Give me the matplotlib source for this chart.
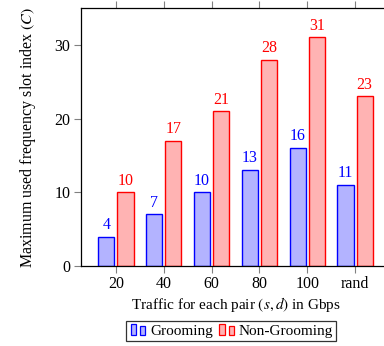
import numpy as np
import matplotlib.pyplot as plt
from matplotlib.patches import Rectangle
from matplotlib.legend_handler import HandlerBase

plt.rcParams['font.family'] = ['Liberation Serif', 'DejaVu Serif']
plt.rcParams['mathtext.fontset'] = 'stix'

categories = ['20', '40', '60', '80', '100', 'rand']
grooming = [4, 7, 10, 13, 16, 11]
non_grooming = [10, 17, 21, 28, 31, 23]

BLUE_EDGE, BLUE_FILL = '#0000ff', '#b3b3ff'
RED_EDGE, RED_FILL = '#ff0000', '#ffb3b3'
FS = 11.5


class TwoBarHandler(HandlerBase):
    """Legend icon drawn as two small bars, like pgfplots ybar legend."""
    def create_artists(self, legend, orig_handle, xdescent, ydescent,
                       width, height, fontsize, trans):
        fc, ec = orig_handle.get_facecolor(), orig_handle.get_edgecolor()
        w = width * 0.3
        arts = []
        for i, h in enumerate([1.0, 0.85]):
            r = Rectangle((-xdescent + i * width * 0.5 + 0.1 * width, -ydescent),
                          w, height * h,
                          facecolor=fc, edgecolor=ec, lw=0.9, transform=trans)
            arts.append(r)
        return arts


fig = plt.figure(figsize=(3.84, 3.46), dpi=100)
ax = fig.add_axes([81 / 384, 80 / 346, 309 / 384, 258 / 346])

x = np.arange(len(categories))
bw = 0.34
b1 = ax.bar(x - 0.2, grooming, bw, facecolor=BLUE_FILL, edgecolor=BLUE_EDGE, lw=1, label='Grooming')
b2 = ax.bar(x + 0.2, non_grooming, bw, facecolor=RED_FILL, edgecolor=RED_EDGE, lw=1, label='Non-Grooming')

for xi, v in zip(x - 0.2, grooming):
    ax.text(xi, v + 0.5, str(v), color=BLUE_EDGE, ha='center', va='bottom', fontsize=FS)
for xi, v in zip(x + 0.2, non_grooming):
    ax.text(xi, v + 0.5, str(v), color=RED_EDGE, ha='center', va='bottom', fontsize=FS)

ax.set_xlim(-0.73, 5.73)
ax.set_ylim(0, 35)
ax.set_xticks(x)
ax.set_xticklabels(categories)
ax.set_yticks([0, 10, 20, 30])
ax.tick_params(axis='both', labelsize=FS, color='#808080', length=5, width=0.8, pad=2.5)
ax.tick_params(axis='x', top=True, direction='out')
ax.tick_params(axis='y', right=False)
for s in ax.spines.values():
    s.set_linewidth(0.9)

ax.set_xlabel('Traffic for each pair $(s,d)$ in Gbps', fontsize=11, labelpad=2)
ax.set_ylabel('Maximum used frequency slot index $(C)$', fontsize=FS, labelpad=12)

leg = fig.legend([b1.patches[0], b2.patches[0]], ['Grooming', 'Non-Grooming'],
                 loc='lower center', bbox_to_anchor=(231 / 384, 5 / 346), ncol=2,
                 handler_map={Rectangle: TwoBarHandler()},
                 fontsize=11, frameon=True, fancybox=False, edgecolor='black',
                 handlelength=1.2, handletextpad=0.2, columnspacing=0.3,
                 borderpad=0.2, borderaxespad=0)
leg.get_frame().set_linewidth(0.9)

fig.savefig('out.png', dpi=100, facecolor='white')
